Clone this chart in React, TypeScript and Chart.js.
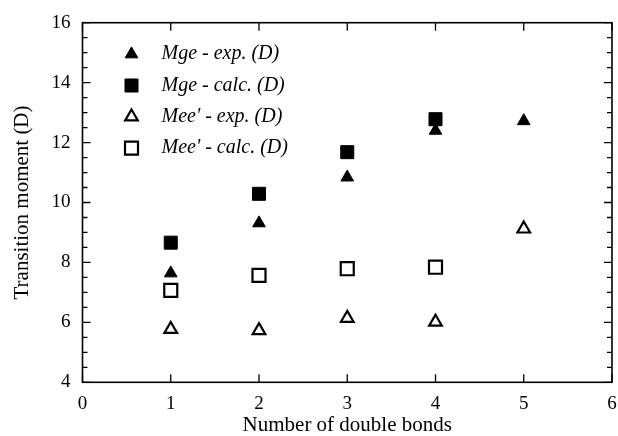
import React, { useEffect, useRef } from "react";
import { Chart, registerables } from "chart.js";
import { drawPoint } from "chart.js/helpers";

Chart.register(...registerables);

const xValues = [1, 2, 3, 4, 5];
const mgeExp = [7.64, 9.31, 10.84, 12.4, 12.72];
const mgeCalc = [8.66, 10.29, 11.68, 12.78];
const meeExp = [5.77, 5.73, 6.14, 6.01, 9.12];
const meeCalc = [7.07, 7.57, 7.79, 7.84];
const seriesLabels = ["Mge - exp. (D)", "Mge - calc. (D)", "Mee' - exp. (D)", "Mee' - calc. (D)"];
const xTicks = [0, 1, 2, 3, 4, 5, 6];
const yTicks = [4, 6, 8, 10, 12, 14, 16];

const FONT = "'Liberation Serif', 'Times New Roman', serif";

const toPoints = (vals: number[]) => vals.map((v, i) => ({ x: xValues[i], y: v }));

const framePlugin = {
  id: "frame",
  afterDatasetsDraw(chart: any) {
    const { ctx, chartArea } = chart;
    const { left, right, top, bottom } = chartArea;
    const xs = chart.scales.x;
    const ys = chart.scales.y;
    ctx.save();
    ctx.strokeStyle = "#000";
    ctx.lineWidth = 1.6;
    ctx.strokeRect(left, top, right - left, bottom - top);
    ctx.lineWidth = 1.3;
    ctx.beginPath();
    for (const v of xTicks) {
      const px = xs.getPixelForValue(v);
      ctx.moveTo(px, bottom);
      ctx.lineTo(px, bottom - 8);
      ctx.moveTo(px, top);
      ctx.lineTo(px, top + 8);
    }
    const ymin = yTicks[0];
    const ymax = yTicks[yTicks.length - 1];
    for (let v = ymin; v <= ymax + 1e-9; v += 0.5) {
      const py = ys.getPixelForValue(v);
      const major = Math.abs(v / 2 - Math.round(v / 2)) < 1e-9;
      const len = major ? 8 : 5;
      ctx.moveTo(left, py);
      ctx.lineTo(left + len, py);
      ctx.moveTo(right, py);
      ctx.lineTo(right - len, py);
    }
    ctx.stroke();

    // legend
    chart.data.datasets.forEach((ds: any, i: number) => {
      const cy = top + 31.5 + i * 31.3;
      const cx = left + 49;
      ctx.fillStyle = ds.backgroundColor;
      ctx.strokeStyle = ds.borderColor;
      ctx.lineWidth = ds.borderWidth;
      drawPoint(ctx, { pointStyle: ds.pointStyle, radius: ds.pointRadius, borderWidth: ds.borderWidth, rotation: 0 }, cx, cy);
      ctx.fillStyle = "#000";
      ctx.font = `italic 20px ${FONT}`;
      ctx.textBaseline = "middle";
      ctx.textAlign = "left";
      ctx.fillText(ds.label, left + 79, cy);
    });
    ctx.restore();
  },
};

export default function App() {
  const ref = useRef<HTMLCanvasElement | null>(null);
  useEffect(() => {
    if (!ref.current) return;
    const tri = 7.3;
    const sq = 9.2;
    const chart = new Chart(ref.current, {
      type: "scatter",
      data: {
        datasets: [
          { label: seriesLabels[0], data: toPoints(mgeExp), pointStyle: "triangle", pointRadius: tri, backgroundColor: "#000", borderColor: "#000", borderWidth: 1 },
          { label: seriesLabels[1], data: toPoints(mgeCalc), pointStyle: "rect", pointRadius: sq, backgroundColor: "#000", borderColor: "#000", borderWidth: 1 },
          { label: seriesLabels[2], data: toPoints(meeExp), pointStyle: "triangle", pointRadius: tri, backgroundColor: "#fff", borderColor: "#000", borderWidth: 2.2 },
          { label: seriesLabels[3], data: toPoints(meeCalc), pointStyle: "rect", pointRadius: sq, backgroundColor: "#fff", borderColor: "#000", borderWidth: 2.2 },
        ] as any,
      },
      options: {
        animation: false,
        responsive: true,
        maintainAspectRatio: false,
        layout: { autoPadding: false, padding: { top: 22.7, right: 6, left: 0, bottom: 0 } },
        plugins: { legend: { display: false }, tooltip: { enabled: false } },
        scales: {
          x: {
            type: "linear",
            min: xTicks[0],
            max: xTicks[xTicks.length - 1],
            afterFit: (s: any) => { s.height = 53.7; s.paddingLeft = 0; s.paddingRight = 0; },
            afterBuildTicks: (s: any) => { s.ticks = xTicks.map((v) => ({ value: v })); },
            grid: { display: false, drawTicks: false },
            border: { display: false },
            ticks: { color: "#000", font: { family: FONT, size: 19 }, padding: 10, maxRotation: 0 },
            title: { display: true, text: "Number of double bonds", color: "#000", font: { family: FONT, size: 21, lineHeight: 1 }, padding: { top: 0, bottom: 0 } },
          },
          y: {
            type: "linear",
            min: yTicks[0],
            max: yTicks[yTicks.length - 1],
            afterFit: (s: any) => { s.width = 82.5; s.paddingTop = 0; s.paddingBottom = 0; },
            afterBuildTicks: (s: any) => { s.ticks = yTicks.map((v) => ({ value: v })); },
            grid: { display: false, drawTicks: false },
            border: { display: false },
            ticks: { color: "#000", font: { family: FONT, size: 19 }, padding: 12 },
            title: { display: true, text: "Transition moment (D)", color: "#000", font: { family: FONT, size: 21, lineHeight: 1 }, padding: { top: 12, bottom: 0 } },
          },
        },
      } as any,
      plugins: [framePlugin],
    });
    return () => chart.destroy();
  }, []);
  return (
    <div style={{ position: "absolute", left: 0, top: 0, width: 618, height: 436, background: "#fff" }}>
      <canvas ref={ref} />
    </div>
  );
}
